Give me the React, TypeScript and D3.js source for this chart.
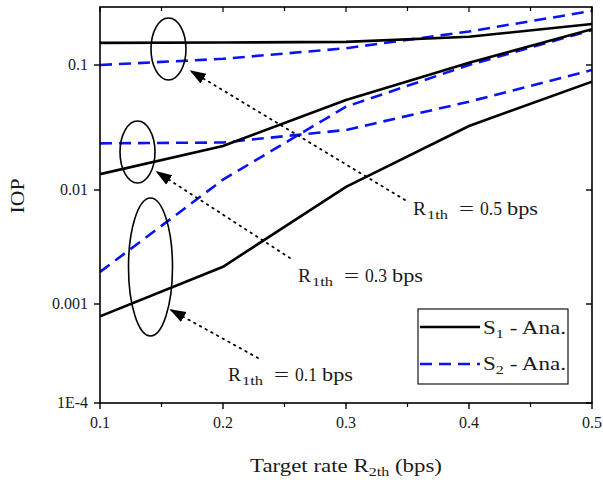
import React from "react";
import * as d3 from "d3";

// Target rate R2th (bps)
const rates = [0.1, 0.2, 0.3, 0.4, 0.5];

// S1 - Ana. for R1th = 0.5, 0.3, 0.1 bps
const s1R05 = [0.15, 0.151, 0.153, 0.168, 0.212];
const s1R03 = [0.0134, 0.0225, 0.0525, 0.104, 0.193];
const s1R01 = [0.00075, 0.00212, 0.0106, 0.0325, 0.0736];

// S2 - Ana. for R1th = 0.5, 0.3, 0.1 bps
const s2R05 = [0.1, 0.112, 0.136, 0.185, 0.27];
const s2R03Rates = [0.1, 0.2, 0.265, 0.3, 0.4, 0.5];
const s2R03 = [0.0236, 0.024, 0.0279, 0.0302, 0.0509, 0.0912];
const s2R01 = [0.00191, 0.0121, 0.0464, 0.1, 0.19];

const xTicks = [0.1, 0.2, 0.3, 0.4, 0.5];
const xMinorTicks = [0.15, 0.25, 0.35, 0.45];
const yTicks = [1e-4, 1e-3, 1e-2, 1e-1];
const yTickLabels = ["1E-4", "0.001", "0.01", "0.1"];

const W = 603;
const H = 480;
const left = 100;
const right = 592;
const top = 7;
const bottom = 403;

const FONT = "'Liberation Serif', 'DejaVu Serif', serif";
const INK = "#1a1a1a";

const x = d3.scaleLinear().domain([0.1, 0.5]).range([left, right]);
// piecewise log axis, one segment per decade
const y = d3
  .scaleLog()
  .domain([1e-4, 1e-3, 1e-2, 1e-1, 0.29])
  .range([bottom, 304, 190, 65, top]);

const line = d3
  .line<[number, number]>()
  .x((d) => x(d[0]))
  .y((d) => y(d[1]));

const pairs = (xs: number[], ys: number[]) =>
  xs.map((v, i) => [v, ys[i]] as [number, number]);

const solidSeries = [s1R05, s1R03, s1R01].map((ys) => pairs(rates, ys));
const dashedSeries = [
  pairs(rates, s2R05),
  pairs(s2R03Rates, s2R03),
  pairs(rates, s2R01),
];

// pieces of an "R_1th = v bps" label: text, offset, width, size, subscript
function RLabel({ lx, ly, value }: { lx: number; ly: number; value: string }) {
  const parts: [string, number, number, number, boolean][] = [
    ["R", 0, 13, 18, false],
    ["1th", 14, 21, 13, true],
    ["=", 46, 15, 18, false],
    [value, 67, 22, 18, false],
    ["bps", 94, 31, 18, false],
  ];
  return (
    <g>
      {parts.map(([t, dx, w, s, sub], i) => (
        <text
          key={i}
          x={lx + dx}
          y={ly + (sub ? 4 : 0)}
          fontFamily={FONT}
          fontSize={s}
          fill={INK}
          textLength={w}
          lengthAdjust="spacingAndGlyphs"
        >
          {t}
        </text>
      ))}
    </g>
  );
}

function Sub({ main, sub, rest }: { main: string; sub: string; rest: string }) {
  return (
    <>
      <tspan>{main}</tspan>
      <tspan fontSize="0.7em" dy="4">
        {sub}
      </tspan>
      <tspan dy="-4">{rest}</tspan>
    </>
  );
}

const annotations = [
  { ell: [168.5, 49, 17.5, 31], from: [405, 200], to: [191, 71], label: "0.5", lx: 413, ly: 215 },
  { ell: [137.5, 152, 17.5, 31], from: [290, 258], to: [157, 172], label: "0.3", lx: 298, ly: 282 },
  { ell: [150.5, 267, 22, 69], from: [258, 358], to: [171, 310], label: "0.1", lx: 228, ly: 381 },
];

export default function App() {
  return (
    <svg width={W} height={H} style={{ display: "block", position: "absolute", left: 0, top: 0 }}>
      <defs>
        <clipPath id="plot">
          <rect x={left} y={top} width={right - left} height={bottom - top} />
        </clipPath>
        <marker id="arrow" viewBox="0 0 10 10" refX="9" refY="5" markerWidth="9" markerHeight="9" orient="auto">
          <path d="M0,1.5 L10,5 L0,8.5 Z" fill="#000" />
        </marker>
      </defs>
      <rect x={0} y={0} width={W} height={H} fill="#fff" />

      <g clipPath="url(#plot)">
        {dashedSeries.map((d, i) => (
          <path key={"d" + i} d={line(d) || ""} fill="none" stroke="#0a14f0" strokeWidth={2.6} strokeDasharray="12 7" />
        ))}
        {solidSeries.map((d, i) => (
          <path key={"s" + i} d={line(d) || ""} fill="none" stroke="#000" strokeWidth={2.6} />
        ))}
      </g>

      {/* grouping ellipses, dotted pointers and labels */}
      {annotations.map((a, i) => (
        <g key={"a" + i}>
          <ellipse cx={a.ell[0]} cy={a.ell[1]} rx={a.ell[2]} ry={a.ell[3]} fill="none" stroke="#000" strokeWidth={1.6} />
          <line
            x1={a.from[0]}
            y1={a.from[1]}
            x2={a.to[0]}
            y2={a.to[1]}
            stroke="#000"
            strokeWidth={1.8}
            strokeDasharray="1.5 5"
            strokeLinecap="round"
            markerEnd="url(#arrow)"
          />
          <RLabel lx={a.lx} ly={a.ly} value={a.label} />
        </g>
      ))}

      {/* frame */}
      <rect x={left} y={top} width={right - left} height={bottom - top} fill="none" stroke="#000" strokeWidth={1.6} />

      {/* x ticks */}
      {xTicks.map((t) => (
        <g key={"x" + t}>
          <line x1={x(t)} x2={x(t)} y1={bottom} y2={bottom + 6} stroke="#000" strokeWidth={1.4} />
          <line x1={x(t)} x2={x(t)} y1={top} y2={top + 5} stroke="#000" strokeWidth={1.2} />
          <text x={x(t)} y={bottom + 25} textAnchor="middle" fontFamily={FONT} fontSize={16} fill={INK}>
            {t.toFixed(1)}
          </text>
        </g>
      ))}
      {xMinorTicks.map((t) => (
        <g key={"xm" + t}>
          <line x1={x(t)} x2={x(t)} y1={bottom} y2={bottom + 4} stroke="#000" strokeWidth={1.2} />
          <line x1={x(t)} x2={x(t)} y1={top} y2={top + 4} stroke="#000" strokeWidth={1.2} />
        </g>
      ))}

      {/* y ticks */}
      {yTicks.map((t, i) => (
        <g key={"y" + t}>
          <line x1={left - 6} x2={left} y1={y(t)} y2={y(t)} stroke="#000" strokeWidth={1.4} />
          <line x1={right - 6} x2={right} y1={y(t)} y2={y(t)} stroke="#000" strokeWidth={1.4} />
          <text x={left - 12} y={y(t) + 5} textAnchor="end" fontFamily={FONT} fontSize={16} fill={INK}>
            {yTickLabels[i]}
          </text>
        </g>
      ))}

      {/* axis titles */}
      <text
        x={250}
        y={472}
        fontFamily={FONT}
        fontSize={18}
        fill={INK}
        textLength={192}
        lengthAdjust="spacingAndGlyphs"
      >
        <Sub main="Target rate R" sub="2th" rest=" (bps)" />
      </text>
      <text
        transform="translate(24,196) rotate(-90)"
        x={-17.5}
        y={0}
        fontFamily={FONT}
        fontSize={19}
        fill={INK}
        textLength={35}
        lengthAdjust="spacingAndGlyphs"
      >
        IOP
      </text>

      {/* legend */}
      <rect x={418} y={309} width={150} height={75} fill="#fff" stroke="#000" strokeWidth={1.1} />
      <line x1={420} x2={480} y1={327} y2={327} stroke="#000" strokeWidth={2.6} />
      <line x1={420} x2={480} y1={364} y2={364} stroke="#0a14f0" strokeWidth={2.6} strokeDasharray="12 7" />
      <text x={483} y={334} fontFamily={FONT} fontSize={18} fill={INK} textLength={83} lengthAdjust="spacingAndGlyphs">
        <Sub main="S" sub="1" rest=" - Ana." />
      </text>
      <text x={483} y={370} fontFamily={FONT} fontSize={18} fill={INK} textLength={83} lengthAdjust="spacingAndGlyphs">
        <Sub main="S" sub="2" rest=" - Ana." />
      </text>
    </svg>
  );
}
